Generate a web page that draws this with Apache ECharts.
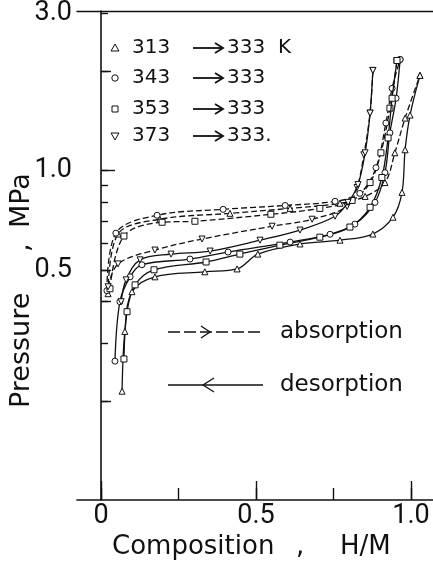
<!DOCTYPE html>
<html>
<head>
<meta charset="utf-8">
<script src="https://cdn.jsdelivr.net/npm/echarts@6/dist/echarts.min.js"></script>
<style>
html, body { margin: 0; padding: 0; background: #fff; }
#chart { width: 433px; height: 572px; }
</style>
</head>
<body>
<div id="chart"></div>
<script>
// composition H/M vs pressure MPa
var abs313 = [[0.023,0.423],[0.055,0.642],[0.19,0.712],[0.416,0.742],[0.61,0.768],[0.771,0.796],[0.852,0.835],[0.916,0.92],[0.948,1.133],[0.981,1.444],[1.029,1.946]];
var abs343 = [[0.019,0.432],[0.048,0.646],[0.181,0.732],[0.394,0.763],[0.594,0.784],[0.755,0.807],[0.835,0.853],[0.887,1.021],[0.919,1.395],[0.939,1.778],[0.965,2.175]];
var abs353 = [[0.029,0.438],[0.074,0.633],[0.197,0.697],[0.303,0.702],[0.548,0.737],[0.706,0.768],[0.81,0.812],[0.868,0.92],[0.903,1.133],[0.932,1.548],[0.955,2.16]];
var abs373 = [[0.023,0.444],[0.055,0.521],[0.174,0.574],[0.326,0.62],[0.552,0.678],[0.681,0.712],[0.794,0.779],[0.826,0.889],[0.848,1.117],[0.868,1.495],[0.877,2.015]];

var des313 = [[0.068,0.214],[0.077,0.325],[0.10,0.429],[0.174,0.476],[0.335,0.493],[0.439,0.503],[0.506,0.558],[0.642,0.599],[0.771,0.615],[0.877,0.642],[0.942,0.722],[0.971,0.859],[0.981,1.157],[0.997,1.475],[1.029,1.946]];
var des343 = [[0.045,0.264],[0.061,0.40],[0.094,0.476],[0.132,0.518],[0.287,0.539],[0.41,0.566],[0.61,0.607],[0.739,0.641],[0.819,0.688],[0.884,0.801],[0.916,0.986],[0.932,1.302],[0.952,1.659],[0.965,2.175]];
var des353 = [[0.074,0.268],[0.084,0.373],[0.11,0.45],[0.171,0.50],[0.339,0.528],[0.448,0.558],[0.577,0.594],[0.706,0.628],[0.803,0.674],[0.868,0.774],[0.906,0.953],[0.926,1.257],[0.939,1.659],[0.955,2.16]];
var des373 = [[0.065,0.40],[0.081,0.466],[0.126,0.536],[0.226,0.558],[0.352,0.57],[0.513,0.615],[0.642,0.66],[0.755,0.727],[0.797,0.801],[0.829,0.907],[0.852,1.133],[0.868,1.495],[0.877,2.015]];

var xTickValues = [0, 0.25, 0.5, 0.75, 1.0];
var xLabelValues = [0, 0.5, 1.0];
var yTickValues = [0.2, 0.3, 0.4, 0.5, 0.6, 0.7, 0.8, 0.9, 1.0, 2.0, 3.0];
var yLabelValues = [0.5, 1.0, 3.0];

var legendFrom = ['313', '343', '353', '373'];
var legendTo = ['333  K', '333', '333', '333.'];

var ink = '#111';
var sans = '"DejaVu Sans", sans-serif';

function curve(data, symbol, rotate, dashed) {
    return {
        type: 'line',
        data: data,
        smooth: 0.35,
        symbol: symbol,
        symbolRotate: rotate,
        symbolSize: 6,
        showAllSymbol: true,
        lineStyle: { color: ink, width: 1.3, type: dashed ? [6, 3] : 'solid' },
        itemStyle: { color: '#fff', borderColor: ink, borderWidth: 1 },
        z: dashed ? 2 : 3
    };
}

function tickLabel(v) {
    return v === 0 ? '0' : v.toFixed(1);
}

function txt(s, x, y, size, align) {
    return { type: 'text', style: { text: s, x: x, y: y, font: size + 'px ' + sans, fill: ink, textAlign: align || 'left', textVerticalAlign: 'middle' } };
}

// legend block + arrow notes (drawn by hand like in the figure)
var rowY = [48, 78, 109, 136];
var graphics = [];
rowY.forEach(function (y, i) {
    var mx = 115;
    var st = { fill: '#fff', stroke: ink, lineWidth: 1 };
    if (i == 0) {
        graphics.push({ type: 'polygon', shape: { points: [[mx, y - 4], [mx + 4, y + 3], [mx - 4, y + 3]] }, style: st });
    } else if (i == 1) {
        graphics.push({ type: 'circle', shape: { cx: mx, cy: y, r: 3.2 }, style: st });
    } else if (i == 2) {
        graphics.push({ type: 'rect', shape: { x: mx - 3, y: y - 3, width: 6, height: 6 }, style: st });
    } else {
        graphics.push({ type: 'polygon', shape: { points: [[mx, y + 4], [mx + 4, y - 3], [mx - 4, y - 3]] }, style: st });
    }
    graphics.push(txt(legendFrom[i], 132, y, 20));
    graphics.push({ type: 'polyline', shape: { points: [[193, y], [222, y]] }, style: { stroke: ink, lineWidth: 1.8 } });
    graphics.push({ type: 'polyline', shape: { points: [[215, y - 5], [223, y], [215, y + 5]] }, style: { stroke: ink, lineWidth: 1.8, fill: null } });
    graphics.push(txt(legendTo[i], 227, y, 20));
});

// absorption: dashed with > in the middle
graphics.push({ type: 'polyline', shape: { points: [[168, 332], [262, 332]] }, style: { stroke: ink, lineWidth: 1.3, lineDash: [12, 4] } });
graphics.push({ type: 'polyline', shape: { points: [[201, 326], [210, 332], [201, 338]] }, style: { stroke: ink, lineWidth: 1.3, fill: null } });
graphics.push(txt('absorption', 280, 332, 23));
// desorption: solid with <
graphics.push({ type: 'polyline', shape: { points: [[168, 385], [263, 385]] }, style: { stroke: ink, lineWidth: 1.3 } });
graphics.push({ type: 'polyline', shape: { points: [[214, 378], [203, 385], [214, 392]] }, style: { stroke: ink, lineWidth: 1.3, fill: null } });
graphics.push(txt('desorption', 280, 385, 23));

// axis titles
graphics.push({ type: 'group', rotation: Math.PI / 2, x: 22, y: 0, children: [
    txt('Pressure', -408, 0, 27),
    txt(',', -252, 0, 27),
    txt('MPa', -228, 0, 27)
] });
graphics.push(txt('Composition', 112, 547, 26));
graphics.push(txt(',', 296, 547, 26));
graphics.push(txt('H/M', 340, 547, 26));

var labelFont = { color: ink, fontSize: 27, fontFamily: 'Roboto, sans-serif' };

var xBase = { type: 'value', min: -0.0774, max: 1.071, splitLine: { show: false } };
var yBase = { type: 'log', logBase: 10, min: 0.1, max: 3.05, splitLine: { show: false }, position: 'left' };

var option = {
    animation: false,
    backgroundColor: '#fff',
    grid: { left: 77, right: 0, top: 7, bottom: 72 },
    xAxis: [
        Object.assign({}, xBase, {
            position: 'bottom',
            axisLine: { show: true, lineStyle: { color: ink, width: 1.6 } },
            axisTick: { show: true, inside: true, length: 12, customValues: xTickValues, lineStyle: { color: ink, width: 1.4 } },
            axisLabel: Object.assign({ show: true, margin: 3, customValues: xLabelValues, formatter: tickLabel }, labelFont)
        }),
        Object.assign({}, xBase, {
            position: 'bottom',
            axisLine: { show: false },
            axisTick: { show: true, inside: true, length: 19, customValues: xLabelValues, lineStyle: { color: ink, width: 1.4 } },
            axisLabel: { show: false }
        }),
        Object.assign({}, xBase, {
            position: 'top',
            axisLine: { show: true, lineStyle: { color: ink, width: 1.4 } },
            axisTick: { show: false },
            axisLabel: { show: false }
        })
    ],
    yAxis: [
        Object.assign({}, yBase, {
            axisLine: { show: true, lineStyle: { color: ink, width: 1.6 } },
            axisTick: { show: true, inside: true, length: 7, customValues: yTickValues, lineStyle: { color: ink, width: 1.4 } },
            axisLabel: Object.assign({ show: true, margin: 5, customValues: yLabelValues, formatter: tickLabel }, labelFont)
        }),
        Object.assign({}, yBase, {
            axisLine: { show: false },
            axisTick: { show: true, inside: true, length: 10, customValues: [0.2, 0.4, 0.5, 2.0], lineStyle: { color: ink, width: 1.4 } },
            axisLabel: { show: false }
        }),
        Object.assign({}, yBase, {
            axisLine: { show: false },
            axisTick: { show: true, inside: true, length: 14, customValues: [1.0], lineStyle: { color: ink, width: 1.4 } },
            axisLabel: { show: false }
        })
    ],
    graphic: graphics,
    series: [
        curve(abs313, 'triangle', 0, true),
        curve(abs343, 'circle', 0, true),
        curve(abs353, 'rect', 0, true),
        curve(abs373, 'triangle', 180, true),
        curve(des313, 'triangle', 0, false),
        curve(des343, 'circle', 0, false),
        curve(des353, 'rect', 0, false),
        curve(des373, 'triangle', 180, false)
    ]
};

var chart = echarts.init(document.getElementById('chart'));
chart.setOption(option);
</script>
</body>
</html>
